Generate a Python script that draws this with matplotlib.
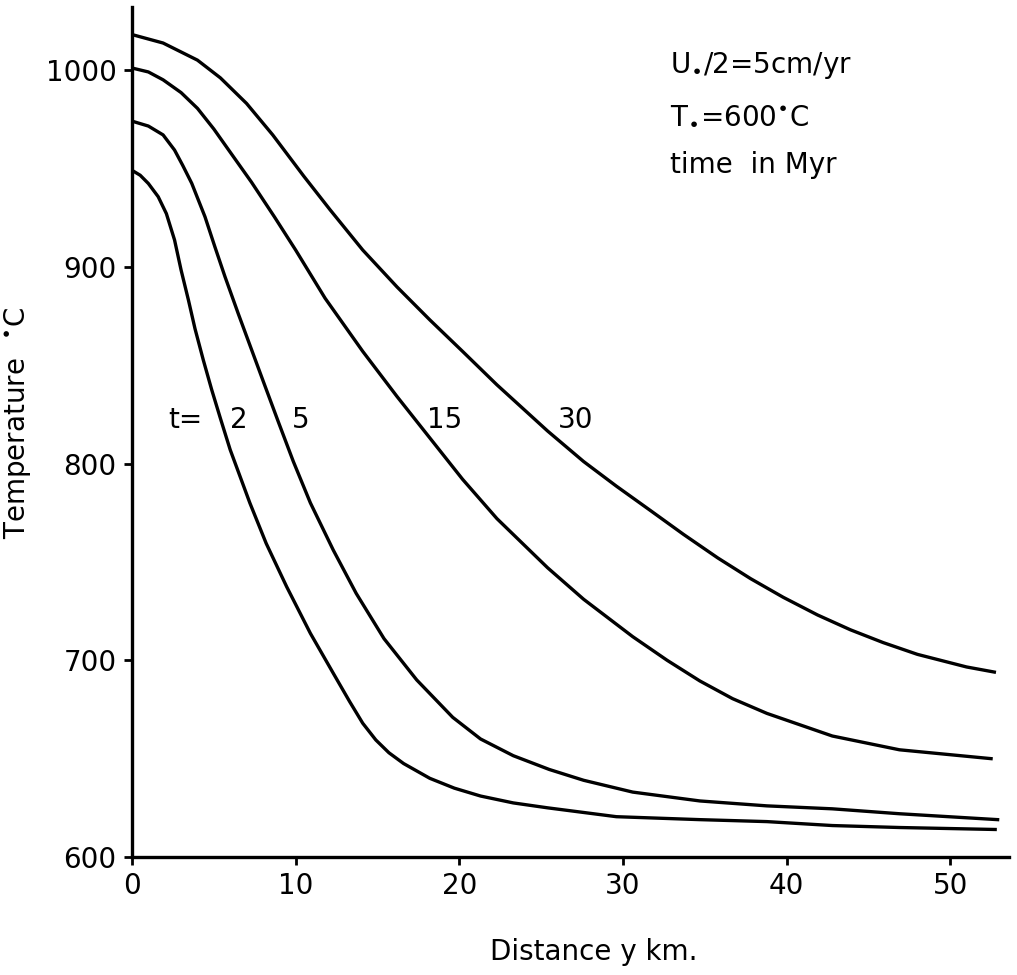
import matplotlib
matplotlib.use('Agg')
import matplotlib.pyplot as plt

# distance (km) and temperature (C), one pair per curve
x_t2 = [0, 0.5, 1.0, 1.6, 2.1, 2.6, 3.0, 3.45, 3.85, 4.36, 4.87, 5.4, 6.0, 7.2, 8.2, 9.45,
        10.9, 12.3, 13.3, 14.1, 14.9, 15.7, 16.6, 18.2, 19.7, 21.3, 23.3, 25.4, 29.6, 34.7,
        38.8, 42.8, 46.9, 52.75]
T_t2 = [949, 946.5, 942.3, 935.6, 927, 913.6, 898.3, 883, 868.5, 852.5, 837.5, 823,
        807, 780, 759.4, 737.4, 713.7, 693.4, 679, 668, 659.5, 653, 647.5, 640, 635, 631,
        627.5, 625, 620.5, 619, 618, 616, 615, 614]

x_t5 = [0, 1.0, 1.9, 2.6, 3.1, 3.65, 4.46, 5.07, 5.68, 6.5, 7.3, 8.1, 8.95, 9.86, 10.9,
        12.3, 13.7, 15.4, 17.4, 19.6, 21.3, 23.3, 25.5, 27.6, 30.6, 34.7, 38.8, 42.8, 46.9,
        52.9]
T_t5 = [974, 971.5, 967, 959.3, 951.5, 942.4, 925.4, 910, 895, 876, 858, 840, 821, 801,
        780, 756, 734, 711, 690, 671, 660, 651.5, 644.5, 639, 633, 628.5, 626, 624.5, 622,
        619]

x_t15 = [0, 1.0, 1.9, 3.0, 4.0, 5.0, 5.85, 7.3, 8.7, 10.0, 11.8, 14.1, 16.2, 18.2, 20.2,
         22.3, 25.4, 27.6, 30.6, 32.7, 34.7, 36.7, 38.8, 42.8, 46.9, 52.5]
T_t15 = [1001, 999, 995, 988.5, 980.5, 970, 960, 943, 925.4, 908.5, 884, 857, 834, 813,
         792, 772, 747, 731, 712, 700, 689.5, 680.5, 673, 661.5, 654.5, 650]

x_t30 = [0, 1.9, 4.0, 5.4, 7.0, 8.6, 10.5, 12.1, 14.1, 16.2, 18.2, 20.2, 22.3, 25.4, 27.6,
         29.6, 31.7, 33.7, 35.8, 37.8, 39.8, 41.9, 43.9, 45.9, 48.0, 51.0, 52.7]
T_t30 = [1018, 1013.7, 1005, 996, 983, 967, 946, 929, 908.5, 889.7, 873, 857, 840, 816.5,
         801, 788.5, 776, 764, 752, 741.5, 732, 723, 715.5, 709, 703, 696.6, 694]

curve_labels = ['2', '5', '15', '30']
label_x = [6.0, 9.8, 18.0, 26.0]

xticks = [0, 10, 20, 30, 40, 50]
yticks = [600, 700, 800, 900, 1000]

plt.rcParams['font.family'] = ['DejaVu Sans']
plt.rcParams['mathtext.fontset'] = 'dejavusans'

fig = plt.figure(figsize=(10.17, 9.75), dpi=100)
ax = fig.add_axes([0.1298, 0.121, 0.8624, 0.8718])

for xs, ts in [(x_t2, T_t2), (x_t5, T_t5), (x_t15, T_t15), (x_t30, T_t30)]:
    ax.plot(xs, ts, color='black', linewidth=2.4, solid_joinstyle='round')

ax.set_xlim(0, 53.6)
ax.set_ylim(600, 1032)
ax.set_xticks(xticks)
ax.set_yticks(yticks)
ax.tick_params(labelsize=20, width=2, length=6, direction='out', pad=5)

ax.spines['top'].set_visible(False)
ax.spines['right'].set_visible(False)
ax.spines['left'].set_linewidth(2.4)
ax.spines['bottom'].set_linewidth(2.4)

ax.set_xlabel('Distance y km.', fontsize=20)
ax.xaxis.set_label_coords(0.527, -0.095)
ax.set_ylabel(r'Temperature  $^{\bullet}$C', fontsize=20)
ax.yaxis.set_label_coords(-0.113, 0.51)

ax.text(2.2, 818, 't=', fontsize=20, va='baseline')
for lab, lx in zip(curve_labels, label_x):
    ax.text(lx, 818, lab, fontsize=20, va='baseline')

ax.text(32.9, 998.5, r'U$_{\bullet}$/2=5cm/yr', fontsize=20, va='baseline')
ax.text(32.9, 973, r'T$_{\bullet}$=600$^{\bullet}$C', fontsize=20, va='baseline')
ax.text(32.9, 947.5, 'time  in Myr', fontsize=20, va='baseline')

fig.savefig('out.png', dpi=100)
